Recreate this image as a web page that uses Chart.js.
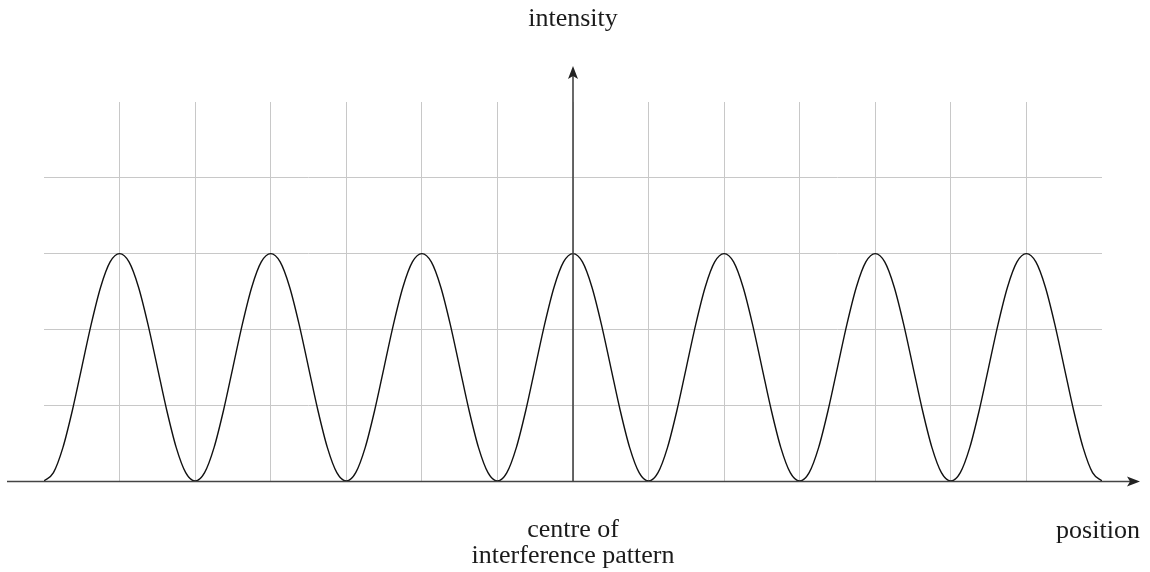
<!DOCTYPE html>
<html>
<head>
<meta charset="utf-8">
<script src="https://cdn.jsdelivr.net/npm/chart.js@4.4.1/dist/chart.umd.min.js"></script>
<style>
  html, body { margin: 0; padding: 0; background: #ffffff; }
  #wrap { width: 1150px; height: 572px; position: relative; }
</style>
</head>
<body>
<div id="wrap"><canvas id="c" width="1150" height="572"></canvas></div>
<script>
// Positions in grid units (one grid spacing = half a fringe period)
const positions = [
  0, 0.125, 0.25, 0.375, 0.5, 0.625, 0.75, 0.875,
  1, 1.125, 1.25, 1.375, 1.5, 1.625, 1.75, 1.875,
  2, 2.125, 2.25, 2.375, 2.5, 2.625, 2.75, 2.875,
  3, 3.125, 3.25, 3.375, 3.5, 3.625, 3.75, 3.875,
  4, 4.125, 4.25, 4.375, 4.5, 4.625, 4.75, 4.875,
  5, 5.125, 5.25, 5.375, 5.5, 5.625, 5.75, 5.875,
  6, 6.125, 6.25, 6.375, 6.5, 6.625, 6.75, 6.875,
  7, 7.125, 7.25, 7.375, 7.5, 7.625, 7.75, 7.875,
  8, 8.125, 8.25, 8.375, 8.5, 8.625, 8.75, 8.875,
  9, 9.125, 9.25, 9.375, 9.5, 9.625, 9.75, 9.875,
  10, 10.125, 10.25, 10.375, 10.5, 10.625, 10.75, 10.875,
  11, 11.125, 11.25, 11.375, 11.5, 11.625, 11.75, 11.875,
  12, 12.125, 12.25, 12.375, 12.5, 12.625, 12.75, 12.875,
  13, 13.125, 13.25, 13.375, 13.5, 13.625, 13.75, 13.875,
  14
];
// Intensity (grid units)
const intensity = [
  0, 0.11, 0.44, 0.93, 1.5, 2.07, 2.56, 2.89,
  3, 2.89, 2.56, 2.07, 1.5, 0.93, 0.44, 0.11,
  0, 0.11, 0.44, 0.93, 1.5, 2.07, 2.56, 2.89,
  3, 2.89, 2.56, 2.07, 1.5, 0.93, 0.44, 0.11,
  0, 0.11, 0.44, 0.93, 1.5, 2.07, 2.56, 2.89,
  3, 2.89, 2.56, 2.07, 1.5, 0.93, 0.44, 0.11,
  0, 0.11, 0.44, 0.93, 1.5, 2.07, 2.56, 2.89,
  3, 2.89, 2.56, 2.07, 1.5, 0.93, 0.44, 0.11,
  0, 0.11, 0.44, 0.93, 1.5, 2.07, 2.56, 2.89,
  3, 2.89, 2.56, 2.07, 1.5, 0.93, 0.44, 0.11,
  0, 0.11, 0.44, 0.93, 1.5, 2.07, 2.56, 2.89,
  3, 2.89, 2.56, 2.07, 1.5, 0.93, 0.44, 0.11,
  0, 0.11, 0.44, 0.93, 1.5, 2.07, 2.56, 2.89,
  3, 2.89, 2.56, 2.07, 1.5, 0.93, 0.44, 0.11,
  0
];
const xRange = [0, 14];
const yRange = [0, 5];
const centrePosition = 7;
const labels = {
  yAxis: "intensity",
  xAxis: "position",
  centre: ["centre of", "interference pattern"]
};

const points = positions.map((x, i) => ({ x: x, y: intensity[i] }));

const axesPlugin = {
  id: 'axesPlugin',
  afterDatasetsDraw(chart) {
    const ctx = chart.ctx;
    const xs = chart.scales.x, ys = chart.scales.y;
    const ca = chart.chartArea;
    const y0 = ys.getPixelForValue(0) + 0.5;
    const xc = xs.getPixelForValue(centrePosition);
    ctx.save();
    ctx.strokeStyle = '#444444';
    ctx.fillStyle = '#222222';
    ctx.lineWidth = 1.6;
    // x axis
    const xLeft = ca.left - 37, xTip = ca.right + 38;
    ctx.beginPath();
    ctx.moveTo(xLeft, y0);
    ctx.lineTo(xTip - 6, y0);
    ctx.stroke();
    ctx.beginPath();
    ctx.moveTo(xTip, y0);
    ctx.lineTo(xTip - 13, y0 - 5);
    ctx.lineTo(xTip - 10, y0);
    ctx.lineTo(xTip - 13, y0 + 5);
    ctx.closePath();
    ctx.fill();
    // y axis
    const yTip = ca.top - 36;
    ctx.beginPath();
    ctx.moveTo(xc, y0);
    ctx.lineTo(xc, yTip + 6);
    ctx.stroke();
    ctx.beginPath();
    ctx.moveTo(xc, yTip);
    ctx.lineTo(xc - 5, yTip + 13);
    ctx.lineTo(xc, yTip + 10);
    ctx.lineTo(xc + 5, yTip + 13);
    ctx.closePath();
    ctx.fill();
    // texts
    ctx.fillStyle = '#1a1a1a';
    ctx.font = '26px "Liberation Serif", "Times New Roman", serif';
    ctx.textAlign = 'center';
    ctx.textBaseline = 'alphabetic';
    ctx.fillText(labels.yAxis, xc, 26);
    ctx.fillText(labels.centre[0], xc, 537);
    ctx.fillText(labels.centre[1], xc, 563);
    ctx.fillText(labels.xAxis, ca.right - 4, 538);
    ctx.restore();
  }
};

new Chart(document.getElementById('c'), {
  type: 'scatter',
  data: {
    datasets: [{
      data: points,
      showLine: true,
      borderColor: '#111111',
      borderWidth: 1.4,
      pointRadius: 0,
      fill: false,
      cubicInterpolationMode: 'monotone'
    }]
  },
  options: {
    responsive: false,
    animation: false,
    layout: { padding: { left: 44, right: 48, top: 102, bottom: 91 } },
    plugins: { legend: { display: false }, tooltip: { enabled: false }, title: { display: false } },
    scales: {
      x: {
        type: 'linear',
        min: xRange[0], max: xRange[1],
        ticks: { display: false, stepSize: 1 },
        border: { display: false },
        grid: {
          drawTicks: false,
          lineWidth: 1,
          color: (c) => (c.tick && (c.tick.value === xRange[0] || c.tick.value === xRange[1])) ? 'rgba(0,0,0,0)' : '#c8c8c8'
        }
      },
      y: {
        type: 'linear',
        min: yRange[0], max: yRange[1],
        ticks: { display: false, stepSize: 1 },
        border: { display: false },
        grid: {
          drawTicks: false,
          lineWidth: 1,
          color: (c) => (c.tick && (c.tick.value === yRange[0] || c.tick.value === yRange[1])) ? 'rgba(0,0,0,0)' : '#c8c8c8'
        }
      }
    }
  },
  plugins: [axesPlugin]
});
</script>
</body>
</html>
